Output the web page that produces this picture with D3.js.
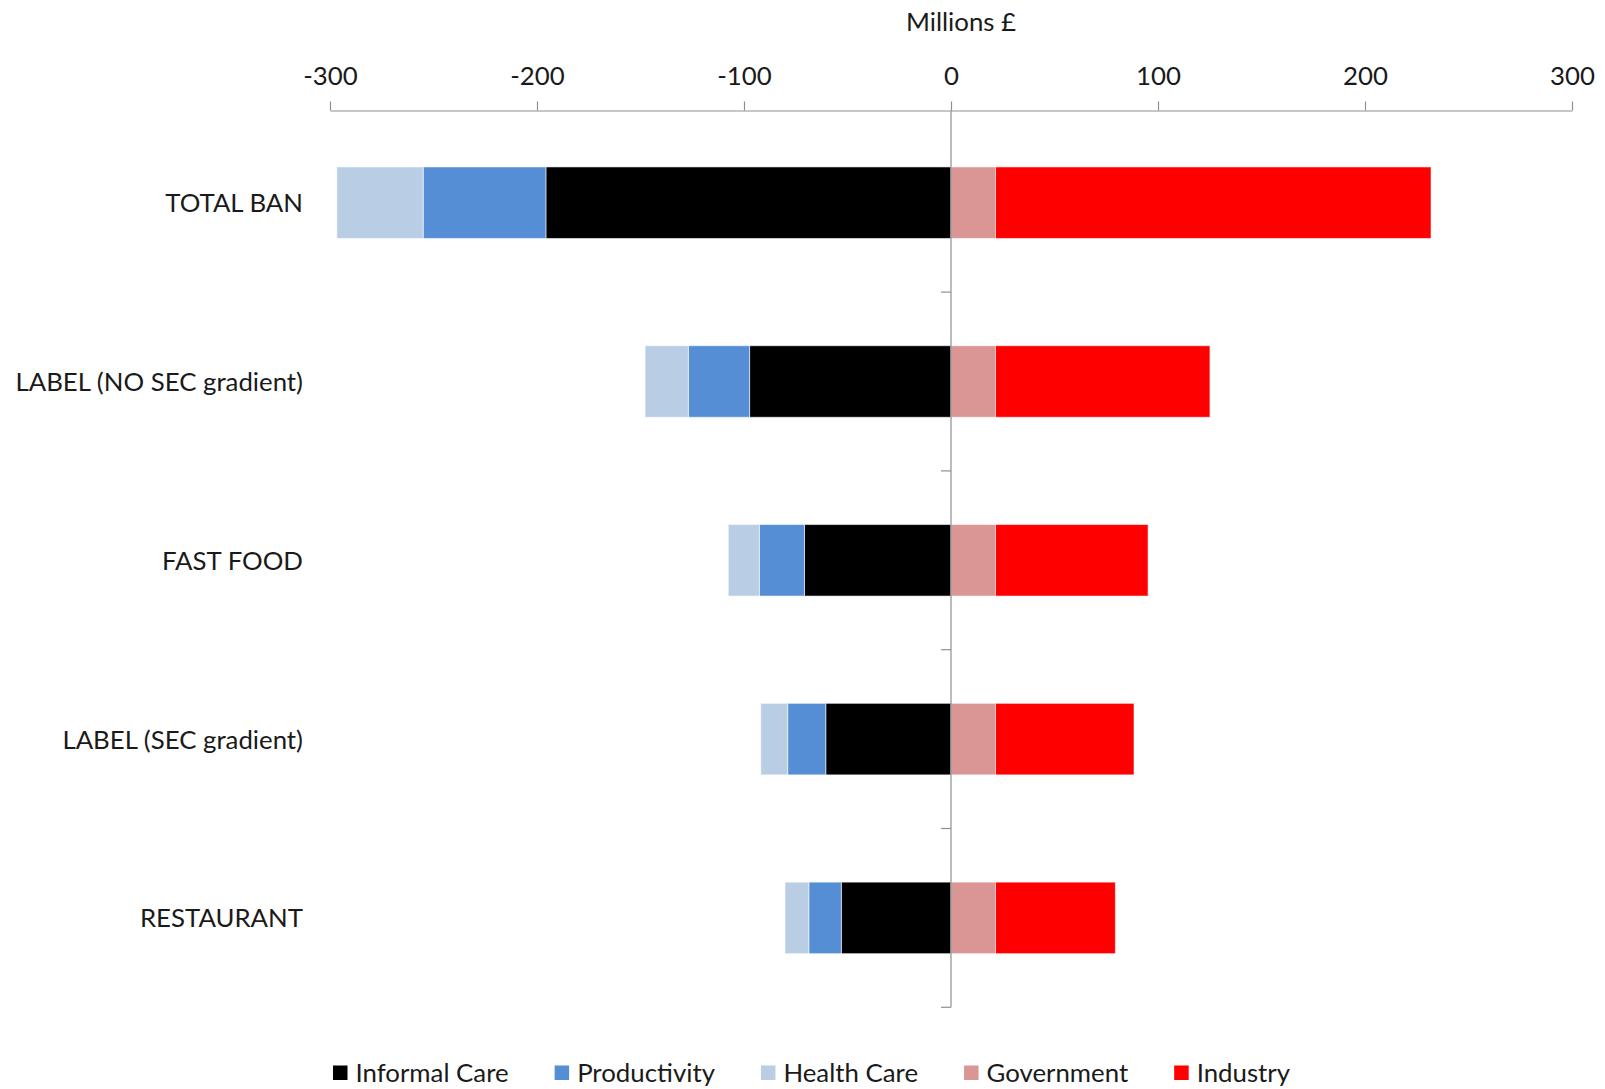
<!DOCTYPE html>
<html>
<head>
<meta charset="utf-8">
<script src="https://cdn.jsdelivr.net/npm/d3@7"></script>
<style>
  html, body { margin: 0; padding: 0; background: #fff; }
  svg { display: block; }
  text { font-family: Lato, "Open Sans", sans-serif; fill: #1a1a1a; }
</style>
</head>
<body>
<svg id="chart" width="1605" height="1089"></svg>
<script>
// Cost/benefit components per policy scenario, millions of pounds
const categories = ["TOTAL BAN", "LABEL (NO SEC gradient)", "FAST FOOD", "LABEL (SEC gradient)", "RESTAURANT"];
const informalCare = [-195.7, -97.3, -70.8, -60.5, -53.0];
const productivity = [-59.3, -29.6, -21.8, -18.4, -15.7];
const healthCare   = [-41.7, -20.9, -15.0, -13.0, -11.5];
const government   = [21.5, 21.5, 21.5, 21.5, 21.5];
const industry     = [210.4, 103.6, 73.7, 66.9, 57.9];

const seriesNames = ["Informal Care", "Productivity", "Health Care", "Government", "Industry"];
const seriesColors = ["#000000", "#558ED5", "#B9CDE5", "#D99694", "#FF0000"];
const xTicks = [-300, -200, -100, 0, 100, 200, 300];
const axisTitle = "Millions £";

const seriesValues = [informalCare, productivity, healthCare, government, industry];
const rows = categories.map((c, i) => {
  const r = { category: c };
  seriesNames.forEach((s, k) => { r[s] = seriesValues[k][i]; });
  return r;
});

const svg = d3.select("#chart");
const FONT = 25.8;
const axisY = 110.5;

const x = d3.scaleLinear().domain([-300, 300]).range([330, 1572]);
const y = d3.scaleBand().domain(categories).range([113.3, 1007.3]).paddingInner(0.6).paddingOuter(0.3);
const color = d3.scaleOrdinal().domain(seriesNames).range(seriesColors);

const stacked = d3.stack().keys(seriesNames).offset(d3.stackOffsetDiverging)(rows);

// Bars
svg.append("g")
  .selectAll("g")
  .data(stacked)
  .join("g")
  .attr("fill", d => color(d.key))
  .selectAll("rect")
  .data(d => d)
  .join("rect")
  .attr("x", d => x(Math.min(d[0], d[1])))
  .attr("width", d => Math.abs(x(d[1]) - x(d[0])))
  .attr("y", d => y(d.data.category))
  .attr("height", y.bandwidth())
  .attr("stroke", "#ffffff")
  .attr("stroke-opacity", 0.55)
  .attr("stroke-width", 1);

// Top value axis
const axisColor = "#8f8f8f";
const xAxis = svg.append("g")
  .attr("transform", `translate(0,${axisY})`)
  .call(d3.axisTop(x).tickValues(xTicks).tickSize(9).tickPadding(17).tickSizeOuter(0).tickFormat(d => String(d)));
xAxis.select(".domain").attr("stroke", axisColor).attr("stroke-width", 1.2);
xAxis.selectAll(".tick line").attr("stroke", axisColor).attr("stroke-width", 1.2);
xAxis.selectAll(".tick text")
  .attr("font-size", FONT)
  .attr("font-family", "Lato, 'Open Sans', sans-serif")
  .attr("fill", "#1a1a1a")
  .attr("dy", 0);

// Category axis along zero
const y1 = y.range()[1];
const cat = svg.append("g");
cat.append("line")
  .attr("x1", x(0)).attr("x2", x(0))
  .attr("y1", axisY).attr("y2", y1)
  .attr("stroke", axisColor).attr("stroke-width", 1.2);
const boundaries = d3.range(1, categories.length + 1).map(i => y.range()[0] + i * y.step());
cat.selectAll("line.tick")
  .data(boundaries)
  .join("line")
  .attr("class", "tick")
  .attr("x1", x(0) - 10).attr("x2", x(0))
  .attr("y1", d => d).attr("y2", d => d)
  .attr("stroke", axisColor).attr("stroke-width", 1.2);

// Category labels
svg.append("g")
  .selectAll("text")
  .data(categories)
  .join("text")
  .attr("x", 303)
  .attr("y", d => y(d) + y.bandwidth() / 2 + 9.5)
  .attr("text-anchor", "end")
  .attr("font-size", FONT)
  .text(d => d);

// Axis title
svg.append("text")
  .attr("x", 961)
  .attr("y", 31)
  .attr("text-anchor", "middle")
  .attr("font-size", FONT)
  .text(axisTitle);

// Legend, laid out from measured label widths
const legend = svg.append("g").attr("transform", "translate(333,1080)");
const sw = 14.5, gapText = 8, gapItem = 46;
let cursor = 0;
seriesNames.forEach(name => {
  const g = legend.append("g");
  g.append("rect").attr("width", sw).attr("height", sw).attr("y", -sw).attr("fill", color(name));
  const t = g.append("text").attr("x", sw + gapText).attr("y", 2).attr("font-size", FONT).text(name);
  const w = t.node().getComputedTextLength();
  g.attr("transform", `translate(${cursor},0)`);
  cursor += sw + gapText + w + gapItem;
});
</script>
</body>
</html>
